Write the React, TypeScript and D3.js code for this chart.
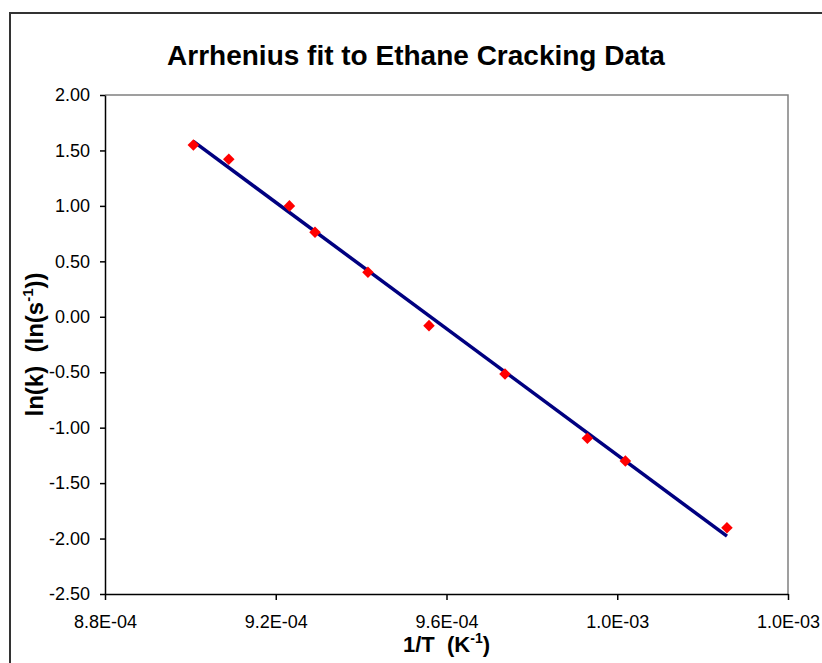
import * as d3 from 'd3';
import React, { useEffect, useRef } from 'react';

// 1/T (K^-1) and ln(k)
const invT = [9.007e-4, 9.09e-4, 9.232e-4, 9.292e-4, 9.416e-4, 9.559e-4, 9.737e-4, 9.93e-4, 1.0019e-3, 1.0257e-3];
const lnK = [1.549, 1.42, 1.0, 0.762, 0.401, -0.08, -0.516, -1.096, -1.3, -1.902];

const xTicks = [8.8e-4, 9.2e-4, 9.6e-4, 1.0e-3, 1.04e-3];
const yTicks = [2.0, 1.5, 1.0, 0.5, 0.0, -0.5, -1.0, -1.5, -2.0, -2.5];

const title = 'Arrhenius fit to Ethane Cracking Data';

function fmtExp(d: number) {
  const [m, e] = d.toExponential(1).split('e');
  const n = Math.abs(+e);
  return m + 'E' + (+e < 0 ? '-' : '+') + (n < 10 ? '0' + n : '' + n);
}

export default function App() {
  const ref = useRef<SVGSVGElement>(null);

  useEffect(() => {
    const svg = d3.select(ref.current);
    svg.selectAll('*').remove();

    const left = 105, right = 788, top = 95, bottom = 594;
    const font = '"Liberation Sans", Arial, sans-serif';

    const x = d3.scaleLinear().domain([8.8e-4, 1.04e-3]).range([left, right]);
    const y = d3.scaleLinear().domain([-2.5, 2.0]).range([bottom, top]);

    // outer chart border (right and bottom edges fall outside the picture)
    svg.append('rect')
      .attr('x', 10).attr('y', 13)
      .attr('width', 830).attr('height', 680)
      .attr('fill', 'white')
      .attr('stroke', '#333').attr('stroke-width', 2);

    // plot area frame (top & right gray)
    svg.append('path')
      .attr('d', `M${left},${top}H${right}V${bottom}`)
      .attr('fill', 'none')
      .attr('stroke', '#808080').attr('stroke-width', 1.5);

    const yAxis = d3.axisLeft(y)
      .tickValues(yTicks)
      .tickSize(5).tickSizeOuter(0).tickPadding(10)
      .tickFormat(d => (+d).toFixed(2));

    const xAxis = d3.axisBottom(x)
      .tickValues(xTicks)
      .tickSize(6).tickSizeOuter(0).tickPadding(15)
      .tickFormat(d => fmtExp(+d));

    const gy = svg.append('g').attr('transform', `translate(${left},0)`).call(yAxis);
    const gx = svg.append('g').attr('transform', `translate(0,${bottom})`).call(xAxis);

    [gx, gy].forEach(g => {
      g.attr('font-family', font).attr('font-size', 18);
      g.selectAll('path, line').attr('stroke', '#000').attr('stroke-width', 1.5);
      g.selectAll('text').attr('fill', '#000');
    });

    // least-squares trendline through the data
    const mx = d3.mean(invT) as number;
    const my = d3.mean(lnK) as number;
    const sxy = d3.sum(invT, (v, i) => (v - mx) * (lnK[i] - my));
    const sxx = d3.sum(invT, v => (v - mx) * (v - mx));
    const slope = sxy / sxx;
    const icpt = my - slope * mx;
    const ext = d3.extent(invT) as [number, number];

    svg.append('path')
      .datum(ext)
      .attr('d', d3.line<number>().x(d => x(d)).y(d => y(icpt + slope * d)))
      .attr('fill', 'none')
      .attr('stroke', '#000080')
      .attr('stroke-width', 3.5);

    const diamond = d3.symbol().type(d3.symbolDiamond2).size(85);
    svg.append('g').selectAll('path')
      .data(invT)
      .enter().append('path')
      .attr('transform', (d, i) => `translate(${x(d)},${y(lnK[i])})`)
      .attr('d', diamond)
      .attr('fill', '#ff0000');

    svg.append('text')
      .attr('x', 416).attr('y', 65)
      .attr('text-anchor', 'middle')
      .attr('font-family', font).attr('font-weight', 'bold').attr('font-size', 28)
      .text(title);

    const xt = svg.append('text')
      .attr('x', (left + right) / 2).attr('y', 652)
      .attr('text-anchor', 'middle')
      .style('white-space', 'pre')
      .attr('font-family', font).attr('font-weight', 'bold').attr('font-size', 22);
    xt.append('tspan').text('1/T  (K');
    xt.append('tspan').attr('font-size', 14).attr('dy', -9).text('-1');
    xt.append('tspan').attr('dy', 9).text(')');

    const yt = svg.append('text')
      .attr('transform', `translate(43,${(top + bottom) / 2}) rotate(-90)`)
      .attr('text-anchor', 'middle')
      .style('white-space', 'pre')
      .attr('font-family', font).attr('font-weight', 'bold').attr('font-size', 24);
    yt.append('tspan').text('ln(k)  (ln(s');
    yt.append('tspan').attr('font-size', 15).attr('dy', -10).text('-1');
    yt.append('tspan').attr('dy', 10).text('))');
  }, []);

  return (
    <svg ref={ref} width={822} height={663}
      style={{ position: 'absolute', left: 0, top: 0, background: '#fff' }} />
  );
}
